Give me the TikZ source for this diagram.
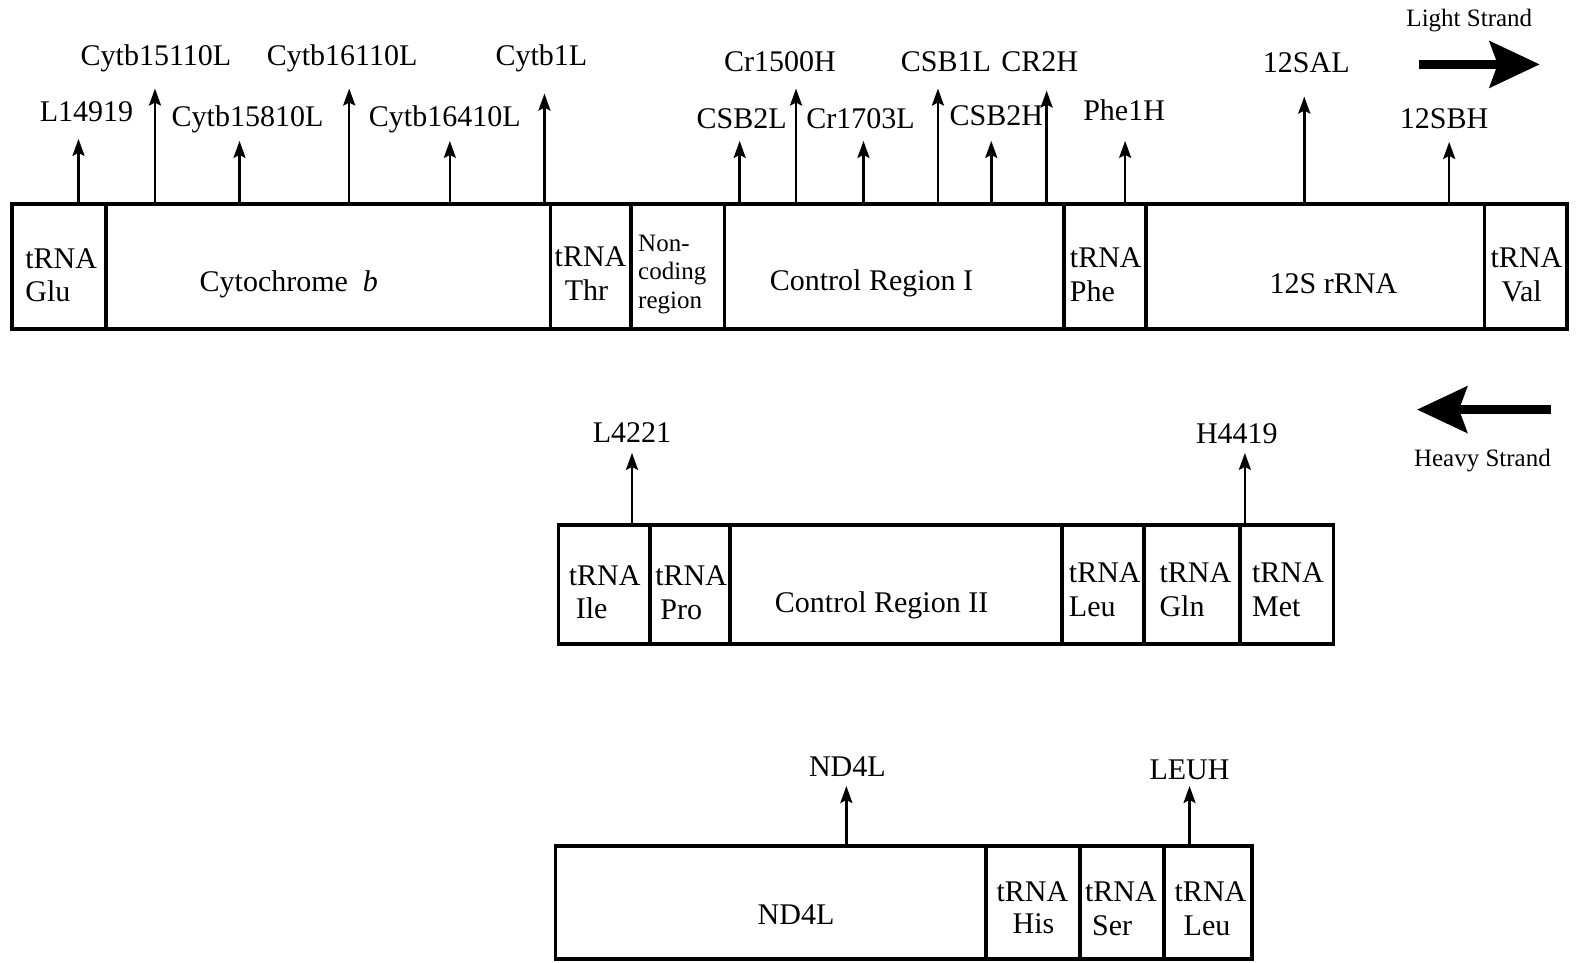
\documentclass[tikz,border=0pt]{standalone}
\usepackage{fontspec}
\setmainfont{Liberation Serif}
\usetikzlibrary{arrows.meta,fit}
\begin{document}
\begin{tikzpicture}[x=1.00638pt,y=-1.00638pt,
 seg/.style={draw, line width=3.8pt, inner sep=0pt, outer sep=0pt},
 txt/.style={font=\fontsize{30}{34}\selectfont, inner sep=0pt, anchor=base},
 ltxt/.style={txt, anchor=base west},
 small/.style={font=\fontsize{25}{29}\selectfont, inner sep=0pt, anchor=base},
 lsmall/.style={small, anchor=base west},
 primer/.style={line width=2.5pt, -{Stealth[width=12pt,length=17pt,inset=3pt]}},
 strand/.style={line width=8.5pt, -{Stealth[width=46pt,length=50pt,inset=8pt]}}]
\useasboundingbox (0,0) rectangle (1568,956);

% ---------- top row ----------
\node[seg, fit={(12,203) (105,327)}] (glu) {};
\node[seg, fit={(105,203) (547,327)}] (cytb) {};
\node[seg, fit={(547,203) (627,327)}] (thr) {};
\node[seg, fit={(627,203) (720,327)}] (nonc) {};
\node[seg, fit={(720,203) (1057,327)}] (cr1) {};
\node[seg, fit={(1057,203) (1139,327)}] (phe) {};
\node[seg, fit={(1139,203) (1475,327)}] (s12) {};
\node[seg, fit={(1475,203) (1557,327)}] (val) {};

\node[ltxt] (glu1) at (25,267) {tRNA};
\node[ltxt] (glu2) at (25,300) {Glu};
\node[txt] (cytbt) at (287,290) {Cytochrome\ \ \textit{b}};
\node[ltxt] (thr1) at (551,265) {tRNA};
\node[ltxt] (thr2) at (561,299) {Thr};
\node[lsmall] (nc1) at (634,250) {Non-};
\node[lsmall] (nc2) at (634,278) {coding};
\node[lsmall] (nc3) at (634,307) {region};
\node[txt] (cr1t) at (866,289) {Control Region I};
\node[ltxt] (phe1) at (1063,266) {tRNA};
\node[ltxt] (phe2) at (1063,300) {Phe};
\node[txt] (s12t) at (1325,292) {12S rRNA};
\node[ltxt] (val1) at (1481,266) {tRNA};
\node[ltxt] (val2) at (1492,300) {Val};

% primer tips
\coordinate (tA) at (78,138);
\coordinate (tB) at (154,88);
\coordinate (tC) at (238,140);
\coordinate (tD) at (347,88);
\coordinate (tE) at (447,140);
\coordinate (tF) at (541,93);
\coordinate (tG) at (735,140);
\coordinate (tH) at (791,88);
\coordinate (tI) at (858,140);
\coordinate (tJ) at (932,88);
\coordinate (tK) at (985,140);
\coordinate (tL) at (1040,90);
\coordinate (tM) at (1118,140);
\coordinate (tN) at (1296,96);
\coordinate (tO) at (1440,141);

\draw[primer] (glu.north -| tA) -- (tA);
\draw[primer] (cytb.north -| tB) -- (tB);
\draw[primer] (cytb.north -| tC) -- (tC);
\draw[primer] (cytb.north -| tD) -- (tD);
\draw[primer] (cytb.north -| tE) -- (tE);
\draw[primer] (cytb.north -| tF) -- (tF);
\draw[primer] (cr1.north -| tG) -- (tG);
\draw[primer] (cr1.north -| tH) -- (tH);
\draw[primer] (cr1.north -| tI) -- (tI);
\draw[primer] (cr1.north -| tJ) -- (tJ);
\draw[primer] (cr1.north -| tK) -- (tK);
\draw[primer] (cr1.north -| tL) -- (tL);
\draw[primer] (phe.north -| tM) -- (tM);
\draw[primer] (s12.north -| tN) -- (tN);
\draw[primer] (s12.north -| tO) -- (tO);

\node[txt] (lA) at (86,121) {L14919};
\node[txt] (lB) at (155,65) {Cytb15110L};
\node[txt] (lC) at (246,126) {Cytb15810L};
\node[txt] (lD) at (340,65) {Cytb16110L};
\node[txt] (lE) at (442,126) {Cytb16410L};
\node[txt] (lF) at (538,65) {Cytb1L};
\node[txt] (lG) at (737,128) {CSB2L};
\node[txt] (lH) at (775,71) {Cr1500H};
\node[txt] (lI) at (855,128) {Cr1703L};
\node[txt] (lJ) at (940,71) {CSB1L};
\node[txt] (lK) at (990,125) {CSB2H};
\node[txt] (lL) at (1033,71) {CR2H};
\node[txt] (lM) at (1117,120) {Phe1H};
\node[txt] (lN) at (1298,72) {12SAL};
\node[txt] (lO) at (1435,128) {12SBH};

% light strand
\node[small] (light) at (1460,26) {Light Strand};
\coordinate (ls0) at (1410,64);
\coordinate (ls1) at (1530,64);
\draw[strand] (ls0) -- (ls1);

% ---------- middle row ----------
\node[seg, fit={(555,522) (646,640)}] (ile) {};
\node[seg, fit={(646,522) (725,640)}] (pro) {};
\node[seg, fit={(725,522) (1055,640)}] (cr2) {};
\node[seg, fit={(1055,522) (1137,640)}] (leum) {};
\node[seg, fit={(1137,522) (1232,640)}] (gln) {};
\node[seg, fit={(1232,522) (1325,640)}] (met) {};

\node[ltxt] (ile1) at (565,582) {tRNA};
\node[ltxt] (ile2) at (572,615) {Ile};
\node[ltxt] (pro1) at (651,582) {tRNA};
\node[ltxt] (pro2) at (656,616) {Pro};
\node[txt] (cr2t) at (876,609) {Control Region II};
\node[ltxt] (leum1) at (1062,579) {tRNA};
\node[ltxt] (leum2) at (1062,613) {Leu};
\node[ltxt] (gln1) at (1152,579) {tRNA};
\node[ltxt] (gln2) at (1152,613) {Gln};
\node[ltxt] (met1) at (1244,579) {tRNA};
\node[ltxt] (met2) at (1244,613) {Met};

\coordinate (tP) at (628,450);
\coordinate (tQ) at (1237,450);
\draw[primer] (ile.north -| tP) -- (tP);
\draw[primer] (met.north -| tQ) -- (tQ);
\node[txt] (lP) at (628,440) {L4221};
\node[txt] (lQ) at (1229,441) {H4419};

% heavy strand
\coordinate (hs0) at (1541,407);
\coordinate (hs1) at (1408,407);
\draw[strand] (hs0) -- (hs1);
\node[small] (heavy) at (1473,464) {Heavy Strand};

% ---------- bottom row ----------
\node[seg, fit={(552,841) (980,953)}] (nd4) {};
\node[seg, fit={(980,841) (1073,953)}] (his) {};
\node[seg, fit={(1073,841) (1157,953)}] (ser) {};
\node[seg, fit={(1157,841) (1244,953)}] (leub) {};

\node[txt] (nd4t) at (791,919) {ND4L};
\node[ltxt] (his1) at (990,896) {tRNA};
\node[ltxt] (his2) at (1006,928) {His};
\node[ltxt] (ser1) at (1078,896) {tRNA};
\node[ltxt] (ser2) at (1085,930) {Ser};
\node[ltxt] (leub1) at (1167,896) {tRNA};
\node[ltxt] (leub2) at (1176,930) {Leu};

\coordinate (tR) at (841,781);
\coordinate (tS) at (1182,781);
\draw[primer] (nd4.north -| tR) -- (tR);
\draw[primer] (leub.north -| tS) -- (tS);
\node[txt] (lR) at (842,772) {ND4L};
\node[txt] (lS) at (1182,775) {LEUH};
\end{tikzpicture}
\end{document}
